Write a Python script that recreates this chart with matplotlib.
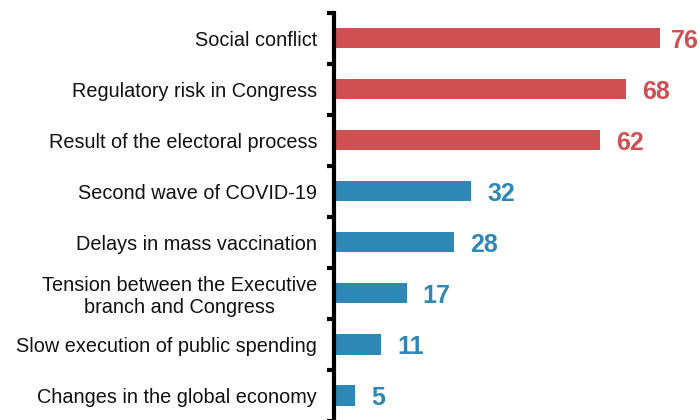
import matplotlib.pyplot as plt
import numpy as np

categories = [
    "Social conflict",
    "Regulatory risk in Congress",
    "Result of the electoral process",
    "Second wave of COVID-19",
    "Delays in mass vaccination",
    "Tension between the Executive\nbranch and Congress",
    "Slow execution of public spending",
    "Changes in the global economy",
]
values = [76, 68, 62, 32, 28, 17, 11, 5]
groups = ["high", "high", "high", "low", "low", "low", "low", "low"]

colors = {"high": "#CF5052", "low": "#2E88B6"}

plt.rcParams["font.family"] = ["Liberation Sans", "DejaVu Sans"]

fig = plt.figure(figsize=(7, 4.2), dpi=100)
ax = fig.add_axes([0.477, -0.002, 0.523, 0.972])

xmax = 85.3
y = np.arange(len(categories))
bar_colors = [colors[g] for g in groups]
ax.barh(y, values, height=0.4, color=bar_colors)

# value labels next to each bar; keep the longest one inside the figure
for yi, v, c in zip(y, values, bar_colors):
    if v + 3.7 + 6.5 > xmax:
        ax.text(xmax - 0.2, yi, str(v), va="center_baseline", ha="right",
                color=c, fontsize=18, fontweight="bold")
    else:
        ax.text(v + 3.7, yi, str(v), va="center_baseline", ha="left",
                color=c, fontsize=18, fontweight="bold")

ax.set_ylim(len(categories) - 0.5, -0.5)
ax.set_xlim(0, xmax)

ax.set_yticks(y)
ax.set_yticklabels(categories, fontsize=14.3, color="#111111")
ax.tick_params(axis="y", which="major", length=0, pad=12)
ax.set_yticks(np.arange(-0.5, len(categories), 1), minor=True)
ax.tick_params(axis="y", which="minor", length=5, width=3, color="black")

for lbl in ax.get_yticklabels():
    lbl.set_multialignment("center")

ax.set_xticks([])
for side in ["top", "right", "bottom"]:
    ax.spines[side].set_visible(False)
ax.spines["left"].set_linewidth(3)

fig.savefig("out.png", dpi=100)
